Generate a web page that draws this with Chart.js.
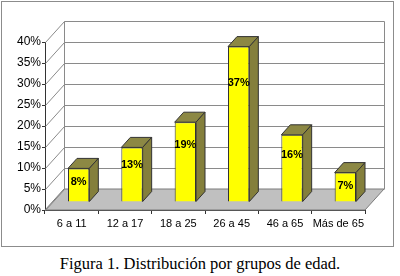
<!DOCTYPE html>
<html>
<head>
<meta charset="utf-8">
<script src="https://cdn.jsdelivr.net/npm/chart.js@4"></script>
<style>
  body { margin: 0; background: #fff; }
  #wrap { position: relative; width: 400px; height: 276px; }
  #chart { position: absolute; left: 0; top: 0; }
  #caption {
    position: absolute; left: 0; top: 254px; width: 400px;
    text-align: center; font: 16.5px 'Liberation Serif', 'Times New Roman', serif; color: #000;
  }
</style>
</head>
<body>
<div id="wrap">
  <canvas id="chart" width="400" height="248"></canvas>
  <div id="caption">Figura 1. Distribución por grupos de edad.</div>
</div>
<script>
const categories = ['6 a 11', '12 a 17', '18 a 25', '26 a 45', '46 a 65', 'Más de 65'];
const percentages = [8, 13, 19, 37, 16, 7];
const yMax = 40;
const yStep = 5;

// 3D look: back wall offset and bar offset / depth
const WALL = { dx: 19, dy: -21 };
const BAR = { dx: 7, dy: -8, depthX: 9, depthY: -10 };

const frame = {
  id: 'frame',
  beforeDraw(chart) {
    const c = chart.ctx;
    c.save();
    c.strokeStyle = '#8c8c8c';
    c.lineWidth = 1;
    c.strokeRect(1.5, 1.5, 392, 245);
    c.restore();
  }
};

// walls, floor and gridlines behind the bars
const walls = {
  id: 'walls',
  beforeDatasetsDraw(chart) {
    const c = chart.ctx;
    const { left, right } = chart.chartArea;
    const y = chart.scales.y;
    const y0 = y.getPixelForValue(0);
    const yTop = y.getPixelForValue(yMax);
    c.save();
    c.lineWidth = 1;

    // floor
    c.beginPath();
    c.moveTo(left, y0);
    c.lineTo(right, y0);
    c.lineTo(right + WALL.dx, y0 + WALL.dy);
    c.lineTo(left + WALL.dx, y0 + WALL.dy);
    c.closePath();
    c.fillStyle = '#c0c0c0';
    c.fill();
    c.strokeStyle = '#7a7a7a';
    c.stroke();

    // gridlines on back wall and left wall
    c.strokeStyle = '#8a8a8a';
    for (let v = 0; v <= yMax; v += yStep) {
      const py = Math.round(y.getPixelForValue(v)) + 0.5;
      c.beginPath();
      c.moveTo(left + 0.5, py);
      c.lineTo(left + WALL.dx + 0.5, py + WALL.dy);
      if (v > 0) c.lineTo(right + WALL.dx + 0.5, py + WALL.dy);
      c.stroke();
    }
    // wall edges
    c.beginPath();
    c.moveTo(left + WALL.dx + 0.5, Math.round(yTop) + WALL.dy + 0.5);
    c.lineTo(left + WALL.dx + 0.5, Math.round(y0) + WALL.dy + 0.5);
    c.moveTo(right + WALL.dx + 0.5, Math.round(yTop) + WALL.dy + 0.5);
    c.lineTo(right + WALL.dx + 0.5, Math.round(y0) + WALL.dy + 0.5);
    c.stroke();

    // shift native bars into the middle of the depth
    c.restore();
    c.save();
    c.translate(BAR.dx, BAR.dy);
  },
  afterDatasetsDraw(chart) {
    const c = chart.ctx;
    const meta = chart.getDatasetMeta(0);
    c.lineWidth = 1;
    c.strokeStyle = '#333';
    meta.data.forEach((bar, i) => {
      const { x, y, base, width } = bar.getProps(['x', 'y', 'base', 'width'], true);
      const l = x - width / 2, r = x + width / 2;
      // top face
      c.beginPath();
      c.moveTo(l, y);
      c.lineTo(r, y);
      c.lineTo(r + BAR.depthX, y + BAR.depthY);
      c.lineTo(l + BAR.depthX, y + BAR.depthY);
      c.closePath();
      c.fillStyle = '#8c8844';
      c.fill();
      c.stroke();
      // side face
      c.beginPath();
      c.moveTo(r, y);
      c.lineTo(r + BAR.depthX, y + BAR.depthY);
      c.lineTo(r + BAR.depthX, base + BAR.depthY);
      c.lineTo(r, base);
      c.closePath();
      c.fillStyle = '#847f3c';
      c.fill();
      c.stroke();
      // value label
      const h = base - y;
      c.fillStyle = '#000';
      c.font = 'bold 11px "Liberation Sans", Arial, sans-serif';
      c.textAlign = 'center';
      c.textBaseline = 'middle';
      c.fillText(percentages[i] + '%', x, y + 8 + 0.18 * h);
    });
    c.restore();
  }
};

new Chart(document.getElementById('chart'), {
  type: 'bar',
  data: {
    labels: categories,
    datasets: [{
      data: percentages,
      backgroundColor: '#ffff00',
      borderColor: '#333',
      borderWidth: 1,
      barPercentage: 0.4,
      categoryPercentage: 1,
      clip: false
    }]
  },
  options: {
    responsive: false,
    animation: false,
    devicePixelRatio: 1,
    layout: { padding: { left: 0, top: 42, right: 35, bottom: 0 } },
    plugins: {
      legend: { display: false },
      tooltip: { enabled: false }
    },
    scales: {
      x: {
        afterFit(scale) { scale.height = 38; },
        grid: { drawOnChartArea: false, drawTicks: true, tickLength: 4, color: '#333' },
        border: { display: true, color: '#333' },
        ticks: {
          color: '#000', padding: 3, maxRotation: 0, minRotation: 0, autoSkip: false,
          font: { family: 'Liberation Sans', size: 11 }
        }
      },
      y: {
        min: 0,
        max: yMax,
        afterFit(scale) { scale.width = 45; },
        grid: { drawOnChartArea: false, drawTicks: true, tickLength: 3, color: '#333' },
        border: { display: true, color: '#333' },
        ticks: {
          stepSize: yStep,
          color: '#000',
          padding: 1,
          font: { family: 'Liberation Sans', size: 12 },
          callback: v => v + '%'
        }
      }
    }
  },
  plugins: [frame, walls]
});
</script>
</body>
</html>
